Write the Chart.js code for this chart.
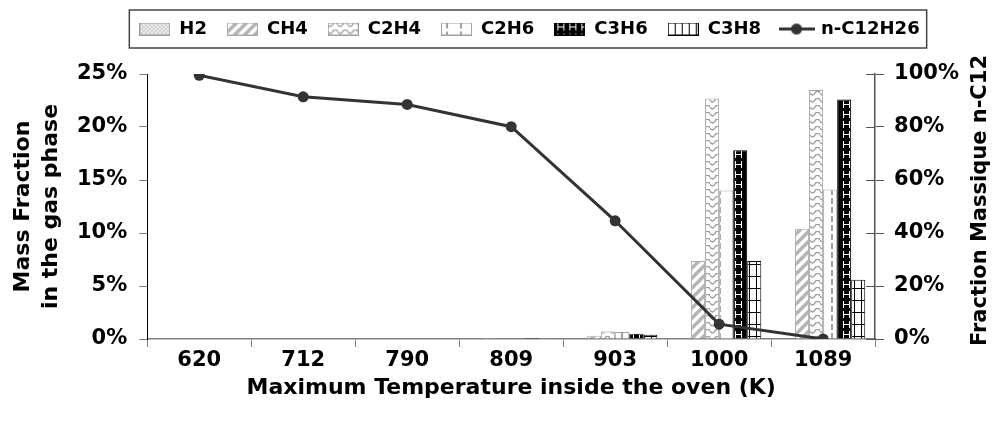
<!DOCTYPE html>
<html>
<head>
<meta charset="utf-8">
<script src="https://cdn.jsdelivr.net/npm/chart.js@4.4.1/dist/chart.umd.min.js"></script>
<style>
  body { margin: 0; background: #fff; }
</style>
</head>
<body>
<canvas id="myChart" width="997" height="435"></canvas>
<script>
// values (bars in % of gas phase, line in % of n-C12)
const temps = ['620', '712', '790', '809', '903', '1000', '1089'];
const h2   = [0, 0, 0, 0, 0, 0.03, 0.03];
const ch4  = [0, 0, 0, 0.01, 0.3, 7.35, 10.4];
const c2h4 = [0, 0, 0, 0.05, 0.7, 22.7, 23.5];
const c2h6 = [0, 0, 0, 0.05, 0.65, 14.0, 14.1];
const c3h6 = [0, 0, 0, 0.1, 0.5, 17.8, 22.6];
const c3h8 = [0, 0, 0, 0.08, 0.4, 7.35, 5.6];
const nc12 = [99.5, 91.4, 88.5, 80.1, 44.6, 5.6, 0];
const leftTicks = [0, 5, 10, 15, 20, 25];
const rightTicks = [0, 20, 40, 60, 80, 100];

Chart.defaults.font.family = 'DejaVu Sans';
Chart.defaults.font.weight = 'bold';
Chart.defaults.color = '#000';

function tile(w, h, draw) {
	let c = document.createElement('canvas');
	c.width = w;
	c.height = h;
	let g = c.getContext('2d');
	draw(g, w, h);
	return c;
}

const tiles = {
	h2: tile(4, 4, (g) => {
		g.fillStyle = '#fff';
		g.fillRect(0, 0, 4, 4);
		g.fillStyle = '#a8a8a8';
		for (let x = 0; x < 4; x++) {
			for (let y = 0; y < 4; y++) {
				if ((x + y) % 4 == 0 || (x - y + 4) % 4 == 0) g.fillRect(x, y, 1, 1);
			}
		}
	}),
	ch4: tile(10, 10, (g) => {
		g.fillStyle = '#fff';
		g.fillRect(0, 0, 10, 10);
		g.strokeStyle = '#b4b4b4';
		g.lineWidth = 3.5;
		g.beginPath();
		g.moveTo(-5, 5); g.lineTo(5, -5);
		g.moveTo(0, 10); g.lineTo(10, 0);
		g.moveTo(5, 15); g.lineTo(15, 5);
		g.stroke();
	}),
	c2h4: tile(10, 7, (g) => {
		g.fillStyle = '#fff';
		g.fillRect(0, 0, 10, 7);
		g.strokeStyle = '#999';
		g.lineWidth = 1.4;
		g.beginPath();
		g.moveTo(0, 2);
		g.quadraticCurveTo(2.5, 6, 5, 2);
		g.quadraticCurveTo(7.5, -2, 10, 2);
		g.stroke();
	}),
	c2h6: tile(14, 9, (g) => {
		g.fillStyle = '#fff';
		g.fillRect(0, 0, 14, 9);
		g.fillStyle = '#a0a0a0';
		g.fillRect(5, 0, 2, 6);
	}),
	c3h6: tile(12, 10, (g) => {
		g.fillStyle = '#000';
		g.fillRect(0, 0, 12, 10);
		g.fillStyle = '#fff';
		g.fillRect(3, 1, 1, 7);
		g.fillRect(9, 1, 1, 7);
		g.fillRect(3, 4, 7, 1);
	}),
	c3h8: tile(7, 12, (g) => {
		g.fillStyle = '#fff';
		g.fillRect(0, 0, 7, 12);
		g.fillStyle = '#000';
		g.fillRect(0, 0, 1, 12);
		g.fillRect(0, 0, 7, 1);
	})
};

let ctx = document.getElementById('myChart').getContext('2d');
const pat = {};
for (let k in tiles) pat[k] = ctx.createPattern(tiles[k], 'repeat');

function legendIcon(fill, border) {
	return tile(31, 13, (g) => {
		g.fillStyle = fill;
		g.fillRect(0, 0, 31, 13);
		g.strokeStyle = border;
		g.lineWidth = 1;
		g.strokeRect(0.5, 0.5, 30, 12);
	});
}

function lineIcon() {
	return tile(36, 13, (g) => {
		g.strokeStyle = '#333';
		g.lineWidth = 3;
		g.beginPath();
		g.moveTo(0, 6.5);
		g.lineTo(36, 6.5);
		g.stroke();
		g.fillStyle = '#333';
		g.beginPath();
		g.arc(18, 6.5, 5.5, 0, Math.PI * 2);
		g.fill();
	});
}

function barSet(label, data, fill, border) {
	return {
		type: 'bar',
		label: label,
		data: data,
		backgroundColor: fill,
		borderColor: border,
		borderWidth: 1,
		categoryPercentage: 0.81,
		barPercentage: 1,
		yAxisID: 'y',
		order: 1,
		icon: legendIcon(fill, border)
	};
}

// legend frame + crossing ticks on the right axis + right axis title
const extras = {
	id: 'extras',
	beforeInit(chart) {
		let fit = chart.legend.fit;
		chart.legend.fit = function () {
			fit.bind(chart.legend)();
			this.height += 26;
		};
	},
	afterLayout(chart) {
		chart.legend.left += 42;
		chart.legend.right += 42;
	},
	afterDraw(chart) {
		let c = chart.ctx;
		let boxes = chart.legend.legendHitBoxes;
		if (boxes && boxes.length) {
			let first = boxes[0];
			let last = boxes[boxes.length - 1];
			let x0 = first.left - 10;
			let x1 = last.left + last.width + 7;
			c.save();
			c.strokeStyle = '#444';
			c.lineWidth = 1.5;
			c.strokeRect(x0, 10, x1 - x0, 38);
			c.restore();
		}
		let s = chart.scales.y1;
		c.save();
		c.strokeStyle = '#555';
		c.lineWidth = 1;
		s.ticks.forEach(t => {
			let py = Math.round(s.getPixelForValue(t.value)) + 0.5;
			c.beginPath();
			c.moveTo(s.left - 9, py);
			c.lineTo(s.left, py);
			c.stroke();
		});
		c.translate(981, (s.top + s.bottom) / 2 - 6);
		c.rotate(-Math.PI / 2);
		c.font = 'bold 21px "DejaVu Sans"';
		c.fillStyle = '#000';
		c.textAlign = 'center';
		c.textBaseline = 'middle';
		c.fillText('Fraction Massique n-C12', 0, 0);
		c.restore();
	}
};

let myChart = new Chart(ctx, {
	type: 'bar',
	data: {
		labels: temps,
		datasets: [
			barSet('H2', h2, pat.h2, '#a0a0a0'),
			barSet('CH4', ch4, pat.ch4, '#a8a8a8'),
			barSet('C2H4', c2h4, pat.c2h4, '#a0a0a0'),
			barSet('C2H6', c2h6, pat.c2h6, '#a0a0a0'),
			barSet('C3H6', c3h6, pat.c3h6, '#000'),
			barSet('C3H8', c3h8, pat.c3h8, '#000'),
			{
				type: 'line',
				label: 'n-C12H26',
				data: nc12,
				yAxisID: 'y1',
				borderColor: '#333',
				borderWidth: 3,
				pointRadius: 5.5,
				pointBackgroundColor: '#333',
				pointBorderColor: '#333',
				pointBorderWidth: 0,
				tension: 0,
				order: 0,
				icon: lineIcon()
			}
		]
	},
	options: {
		responsive: false,
		animation: false,
		layout: { padding: { left: 6, right: 28, top: 0, bottom: 36 } },
		plugins: {
			tooltip: { enabled: false },
			legend: {
				position: 'top',
				labels: {
					usePointStyle: true,
					pointStyleWidth: 31,
					boxHeight: 13,
					padding: 20,
					color: '#000',
					font: { size: 18, weight: 'bold' },
					generateLabels: (chart) => chart.data.datasets.map((ds, i) => ({
						text: ds.label,
						pointStyle: ds.icon,
						datasetIndex: i,
						hidden: false,
						lineWidth: 0,
						fillStyle: 'transparent',
						strokeStyle: 'transparent',
						fontColor: '#000'
					}))
				}
			}
		},
		scales: {
			x: {
				grid: { drawOnChartArea: false, offset: true, tickLength: 8, color: '#808080' },
				border: { color: '#808080', width: 1.5 },
				ticks: { padding: 3, font: { size: 21, weight: 'bold', lineHeight: 1 } },
				title: {
					display: true,
					text: 'Maximum Temperature inside the oven (K)',
					font: { size: 22, weight: 'bold', lineHeight: 1 },
					padding: { top: 3, bottom: 0 }
				}
			},
			y: {
				position: 'left',
				min: 0,
				max: 25,
				afterBuildTicks: (axis) => { axis.ticks = leftTicks.map(v => ({ value: v })); },
				ticks: { padding: 12, font: { size: 21, weight: 'bold' }, callback: (v) => v + '%' },
				grid: { drawOnChartArea: false, tickLength: 8, color: '#808080' },
				border: { color: '#000', width: 1 },
				title: {
					display: true,
					text: ['Mass Fraction', 'in the gas phase'],
					font: { size: 22, weight: 'bold', lineHeight: 1.25 },
					padding: { top: 4, bottom: 0 }
				}
			},
			y1: {
				position: 'right',
				min: 0,
				max: 100,
				afterBuildTicks: (axis) => { axis.ticks = rightTicks.map(v => ({ value: v })); },
				ticks: { padding: 10, font: { size: 21, weight: 'bold' }, callback: (v) => v + '%' },
				grid: { drawOnChartArea: false, tickLength: 9, color: '#555' },
				border: { color: '#555', width: 1.5 }
			}
		}
	},
	plugins: [extras]
});
</script>
</body>
</html>
